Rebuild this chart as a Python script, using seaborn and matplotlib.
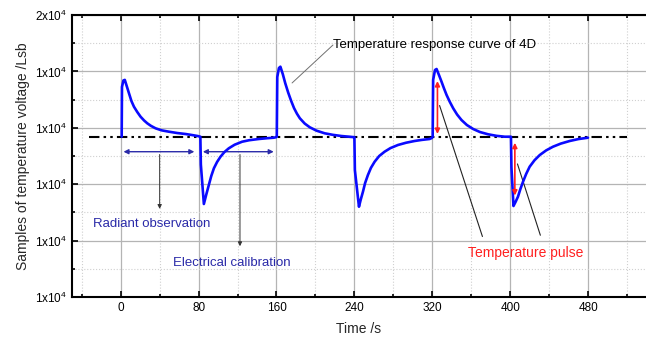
import matplotlib
matplotlib.use('Agg')
import matplotlib.pyplot as plt
import pandas as pd
import seaborn as sns
from matplotlib.ticker import MultipleLocator, FixedLocator, FixedFormatter

# Curve of the 4D channel
time_s = [1, 1.3, 2.8, 4.2, 6, 8.5, 11, 13.6, 17, 20.4, 24, 27.3, 31, 35.8, 42, 49.5, 58, 66.6, 73, 79,
          81.8, 82.3, 85.4, 88, 90.5, 93, 95.7, 99, 102.5, 106.5, 111, 117, 124.7, 132, 141.8, 150, 157.2, 159.5,
          160.3, 160.8, 162.5, 164, 166.5, 169, 172, 175, 178, 181, 184, 189, 194.2, 201, 209.5, 218, 226.6, 239,
          240, 240.5, 244.7, 246.5, 248.8, 251, 253.9, 257, 260.8, 265.5, 271, 277, 284.7, 293, 301.8, 309, 317.2, 319.6,
          320.4, 320.9, 322.8, 324.4, 327, 329.5, 332, 334.7, 338, 341.5, 345.5, 350, 355.5, 362, 369, 377.3, 386, 394.5, 400.8,
          401.3, 403.4, 405.5, 408, 410.5, 413.2, 416.5, 420, 425, 430.4, 437, 444, 452, 461.1, 470, 479.9]
samples = [15684, 17450, 17680, 17700, 17500, 17223, 16950, 16748, 16560, 16393, 16260, 16159, 16070, 15982, 15910, 15862, 15815, 15780, 15745, 15709,
           15684, 14700, 13298, 13650, 13971, 14290, 14564, 14790, 14975, 15140, 15273, 15400, 15507, 15560, 15603, 15630, 15649, 15665,
           15684, 17800, 18120, 18167, 17900, 17580, 17250, 16960, 16700, 16500, 16337, 16150, 16018, 15900, 15805, 15750, 15709, 15670,
           15670, 14500, 13202, 13450, 13734, 14040, 14326, 14580, 14798, 15000, 15152, 15280, 15390, 15470, 15532, 15570, 15603, 15640,
           15684, 17700, 18050, 18085, 17860, 17635, 17400, 17163, 16920, 16691, 16470, 16276, 16100, 15957, 15850, 15770, 15715, 15684, 15684,
           14600, 13227, 13370, 13557, 13830, 14089, 14370, 14620, 14850, 15035, 15200, 15330, 15440, 15532, 15600, 15649]

baseline_t = [-33, 520]
baseline_v = [15684, 15684]

ytick_vals = [10000, 12000, 14000, 16000, 18000, 20000]
ytick_labels = ['1x10$^4$', '1x10$^4$', '1x10$^4$', '1x10$^4$', '1x10$^4$', '2x10$^4$']

sns.set_style('ticks')
plt.rcParams['font.family'] = ['Liberation Sans', 'DejaVu Sans']
plt.rcParams['mathtext.fontset'] = 'custom'
plt.rcParams['mathtext.rm'] = 'Liberation Sans'
plt.rcParams['mathtext.it'] = 'Liberation Sans'

fig = plt.figure(figsize=(6.46, 3.38), dpi=100)
ax = fig.add_axes([0.1115, 0.1213, 0.8885, 0.8343])

curve = pd.DataFrame({'t': time_s, 'v': samples})
base = pd.DataFrame({'t': baseline_t, 'v': baseline_v})

sns.lineplot(data=base, x='t', y='v', color='black', lw=1.5, ax=ax, zorder=3)
ax.lines[-1].set_dashes([5, 2, 1.2, 2, 1.2, 2])
sns.lineplot(data=curve, x='t', y='v', color='#0a0aff', lw=1.9, estimator=None,
             sort=False, ax=ax, zorder=4)

ax.set_xlim(-50, 539.5)
ax.set_ylim(10000, 20000)
ax.set_xticks([0, 80, 160, 240, 320, 400, 480])
ax.xaxis.set_minor_locator(MultipleLocator(40))
ax.yaxis.set_major_locator(FixedLocator(ytick_vals))
ax.yaxis.set_major_formatter(FixedFormatter(ytick_labels))
ax.yaxis.set_minor_locator(MultipleLocator(1000))

ax.grid(which='major', color='#b4b4b4', lw=0.9, ls='-')
ax.grid(which='minor', color='#d0d0d0', lw=0.8, ls=':')
ax.set_axisbelow(True)

ax.tick_params(which='both', direction='in', top=True, right=False, width=1.2,
               labelsize=8.5, colors='black')
ax.tick_params(which='major', length=4)
ax.tick_params(which='minor', length=2.5)
for side in ['left', 'bottom', 'top']:
    ax.spines[side].set_linewidth(1.5)
    ax.spines[side].set_color('black')
ax.spines['right'].set_visible(False)

ax.set_xlabel('Time /s', fontsize=10, labelpad=6)
ax.set_ylabel('Samples of temperature voltage /Lsb', fontsize=10, labelpad=4)

# navy span arrows
navy = '#2a2aa8'
ax.annotate('', xy=(0, 15152), xytext=(78.5, 15152),
            arrowprops=dict(arrowstyle='<|-|>', color=navy, lw=1, mutation_scale=7))
ax.annotate('', xy=(81.5, 15152), xytext=(160, 15152),
            arrowprops=dict(arrowstyle='<|-|>', color=navy, lw=1, mutation_scale=7))
ax.annotate('', xy=(40, 13025), xytext=(40, 15152),
            arrowprops=dict(arrowstyle='-|>', color='#333333', lw=0.7, mutation_scale=6))
ax.annotate('', xy=(122.5, 11702), xytext=(122.5, 15152),
            arrowprops=dict(arrowstyle='-|>', color='#333333', lw=0.7, mutation_scale=6))
ax.text(-28, 12589, 'Radiant observation', color=navy, fontsize=9.5, va='center')
ax.text(53.5, 11206, 'Electrical calibration', color=navy, fontsize=9.5, va='center')

# red pulse arrows
ax.annotate('', xy=(325.3, 17755), xytext=(325.3, 15684), zorder=6,
            arrowprops=dict(arrowstyle='<|-|>', color='#ff2020', lw=1.2, mutation_scale=7))
ax.annotate('', xy=(404.8, 15567), xytext=(404.8, 13500), zorder=6,
            arrowprops=dict(arrowstyle='<|-|>', color='#ff2020', lw=1.2, mutation_scale=7))
ax.plot([327.5, 371.5], [16790, 12145], color='#222222', lw=0.8)
ax.plot([407.5, 431], [14718, 12190], color='#222222', lw=0.8)
ax.text(356.5, 11560, 'Temperature pulse', color='#ff2020', fontsize=10, va='center')

# curve label with leader
ax.plot([176, 218], [17590, 18936], color='#707070', lw=0.7)
ax.text(218.5, 18936, 'Temperature response curve of 4D', color='black', fontsize=9.5,
        va='center')

fig.savefig('out.png', dpi=100)
